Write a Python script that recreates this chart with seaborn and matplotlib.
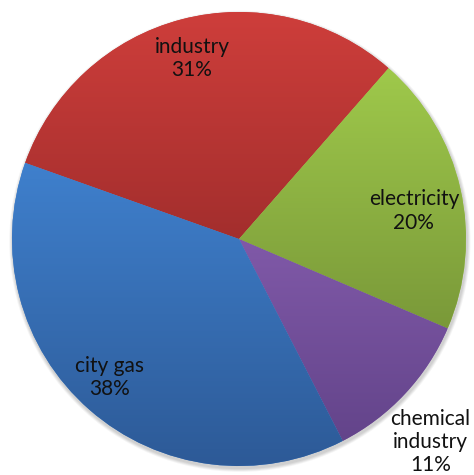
import numpy as np
import matplotlib
matplotlib.use("Agg")
import matplotlib.pyplot as plt
import seaborn as sns
from matplotlib.colors import LinearSegmentedColormap
from matplotlib.patches import Circle

# Shares of consumption by sector (percent), clockwise from the upper left
categories = ["industry", "electricity", "chemical\nindustry", "city gas"]
shares = [31, 20, 11, 38]

# Per-slice vertical gradient: lighter at the top, darker at the bottom
top_colors = ["#CE3E3B", "#9FC94B", "#8059A8", "#3F80CD"]
bottom_colors = ["#A32E2D", "#7A9939", "#63448A", "#2D5A97"]

# Label placement: distance from centre (in radii) and angular nudge (deg)
label_radius = [0.82, 0.78, 1.23, 0.835]
label_nudge = [0.0, -3.7, -3.7, -1.7]

sns.set_theme(style="white")
plt.rcParams["font.family"] = ["Lato", "DejaVu Sans"]

fig = plt.figure(figsize=(4.74, 4.75), dpi=100)
ax = fig.add_axes([0, 0, 1, 1])

# soft drop shadow under the disc
for k, a in enumerate([0.05, 0.05, 0.05, 0.04]):
    ax.add_patch(Circle((0.004, -0.010), 1.0 + 0.004 * (k + 1),
                        facecolor="black", edgecolor="none", alpha=a, zorder=0))

wedges, _ = ax.pie(shares, startangle=160.4, counterclock=False, radius=1.0,
                   colors=top_colors, wedgeprops=dict(linewidth=0))

for w, c_top, c_bot, r_lab, nudge, name, val in zip(
        wedges, top_colors, bottom_colors, label_radius, label_nudge,
        categories, shares):
    t1, t2 = w.theta1, w.theta2
    ang = np.radians(np.linspace(t1, t2, 200))
    xs = np.concatenate([[0.0], np.cos(ang)])
    ys = np.concatenate([[0.0], np.sin(ang)])
    cmap = LinearSegmentedColormap.from_list("grad", [c_bot, c_top])
    grad = np.linspace(0, 1, 256).reshape(-1, 1)
    im = ax.imshow(grad, cmap=cmap, origin="lower", aspect="auto",
                   extent=[xs.min(), xs.max(), ys.min(), ys.max()],
                   zorder=2, interpolation="bilinear")
    im.set_clip_path(w)

    mid = np.radians((t1 + t2) / 2 + nudge)
    ax.text(r_lab * np.cos(mid), r_lab * np.sin(mid), f"{name}\n{val}%",
            ha="center", va="center", fontsize=15, color="#111111",
            linespacing=1.2, zorder=5)

R = 227.0
ax.set_xlim(-239 / R, 235 / R)
ax.set_ylim(-236 / R, 239 / R)
ax.set_aspect("auto")
ax.axis("off")

fig.savefig("out.png", dpi=100)
